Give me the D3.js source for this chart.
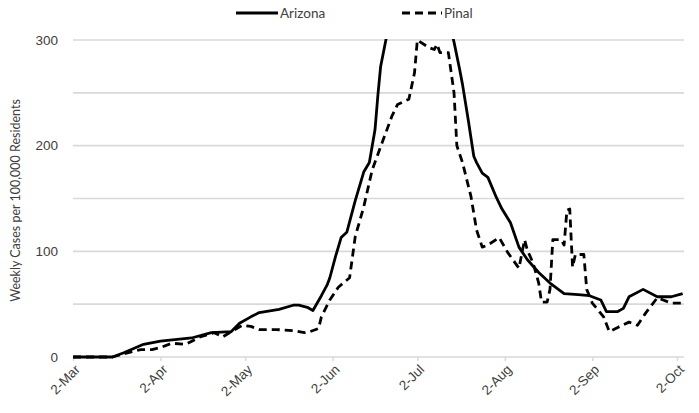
<!DOCTYPE html>
<html><head><meta charset="utf-8">
<script src="https://cdn.jsdelivr.net/npm/d3@7"></script>
<style>
html,body{margin:0;padding:0;background:#fff;}
svg{display:block;font-family:Lato,"Liberation Sans",sans-serif;}
</style></head><body>
<svg id="chart" width="699" height="413"></svg>
<script>
const seriesNames = ["Arizona", "Pinal"];
const yTickLabels = [0, 100, 200, 300];
const xTickLabels = ["2-Mar","2-Apr","2-May","2-Jun","2-Jul","2-Aug","2-Sep","2-Oct"];
const xTickDates = ["2020-03-02","2020-04-02","2020-05-02","2020-06-02","2020-07-02","2020-08-02","2020-09-02","2020-10-02"];

const arizonaDates = ["2020-03-02","2020-03-16","2020-03-20","2020-03-27","2020-04-02","2020-04-13","2020-04-20","2020-04-27","2020-04-30","2020-05-04","2020-05-07","2020-05-14","2020-05-19","2020-05-21","2020-05-24","2020-05-26","2020-05-29","2020-05-31","2020-06-01","2020-06-03","2020-06-05","2020-06-07","2020-06-10","2020-06-13","2020-06-15","2020-06-17","2020-06-18","2020-06-19","2020-06-21","2020-06-25","2020-07-01","2020-07-08","2020-07-13","2020-07-15","2020-07-17","2020-07-18","2020-07-20","2020-07-22","2020-07-23","2020-07-25","2020-07-27","2020-07-30","2020-08-01","2020-08-04","2020-08-07","2020-08-10","2020-08-14","2020-08-18","2020-08-23","2020-08-28","2020-09-01","2020-09-05","2020-09-07","2020-09-11","2020-09-13","2020-09-15","2020-09-20","2020-09-25","2020-09-30","2020-10-04"];
const arizonaValues = [0,0,4,12,15,18,23,24,32,38,42,45,49,49,47,44,58,68,75,95,113,118,148,175,184,215,247,275,302,335,360,350,320,298,272,258,225,190,184,174,170,151,140,127,104,92,80,70,60,59,58,54,43,43,46,57,64,57,57,60];

const pinalDates = ["2020-03-02","2020-03-16","2020-03-20","2020-03-26","2020-03-30","2020-04-02","2020-04-06","2020-04-11","2020-04-16","2020-04-21","2020-04-24","2020-04-29","2020-05-01","2020-05-04","2020-05-07","2020-05-13","2020-05-19","2020-05-23","2020-05-25","2020-05-28","2020-05-29","2020-06-01","2020-06-04","2020-06-08","2020-06-10","2020-06-13","2020-06-16","2020-06-19","2020-06-23","2020-06-25","2020-06-29","2020-07-01","2020-07-02","2020-07-06","2020-07-08","2020-07-09","2020-07-10","2020-07-13","2020-07-15","2020-07-16","2020-07-18","2020-07-21","2020-07-23","2020-07-25","2020-07-27","2020-07-31","2020-08-03","2020-08-07","2020-08-09","2020-08-10","2020-08-12","2020-08-14","2020-08-15","2020-08-17","2020-08-18","2020-08-19","2020-08-22","2020-08-23","2020-08-24","2020-08-25","2020-08-26","2020-08-27","2020-08-30","2020-08-31","2020-09-02","2020-09-06","2020-09-08","2020-09-11","2020-09-15","2020-09-18","2020-09-21","2020-09-25","2020-09-30","2020-10-04"];
const pinalValues = [0,0,3,7,7,9,13,12,19,23,19,27,30,29,26,26,25,23,24,27,38,54,66,75,114,142,177,199,228,239,244,269,300,293,291,296,288,288,250,200,184,152,120,104,106,113,99,84,111,101,89,70,52,52,64,111,111,106,139,140,85,97,97,64,51,38,24,28,33,30,42,56,51,51];

const parse = d3.utcParse("%Y-%m-%d");
const svg = d3.select("#chart");

const x = d3.scaleUtc().domain([parse(xTickDates[0]), parse(xTickDates[xTickDates.length-1])]).range([73, 677]);
const y = d3.scaleLinear().domain([0, 300]).range([357, 40]);
const plotLeft = 73, plotRight = 684;

// gridlines every 50
const grid = svg.append("g");
grid.selectAll("line").data(d3.range(0, 301, 50)).join("line")
  .attr("x1", plotLeft).attr("x2", plotRight)
  .attr("y1", d => y(d)).attr("y2", d => y(d))
  .attr("stroke", "#d9d9d9").attr("stroke-width", 1.6);

// x axis ticks
const xAxis = d3.axisBottom(x)
  .tickValues(xTickDates.map(parse))
  .tickFormat((d, i) => xTickLabels[i])
  .tickSize(4).tickSizeOuter(0);
const gx = svg.append("g").attr("transform", `translate(0,${y(0)})`).call(xAxis);
gx.select(".domain").remove();
gx.selectAll(".tick line").attr("stroke", "#d9d9d9").attr("stroke-width", 1.5);
gx.selectAll(".tick text")
  .attr("fill", "#404040").attr("font-size", 13.5)
  .attr("text-anchor", "end")
  .attr("x", 0).attr("y", 0).attr("dy", "0.35em")
  .attr("transform", "translate(4,10) rotate(-45)");

// y axis
const yAxis = d3.axisLeft(y).tickValues(yTickLabels).tickSize(0).tickPadding(15);
const gy = svg.append("g").attr("transform", `translate(${plotLeft},0)`).call(yAxis);
gy.select(".domain").remove();
gy.selectAll(".tick text").attr("fill", "#404040").attr("font-size", 13.5);

svg.append("text")
  .attr("transform", `translate(20,${(y(0)+y(300))/2 + 2}) rotate(-90)`)
  .attr("text-anchor", "middle").attr("fill", "#404040").attr("font-size", 12.5)
  .text("Weekly Cases per 100,000 Residents");

// clip
svg.append("clipPath").attr("id", "clip").append("rect")
  .attr("x", plotLeft - 2).attr("y", y(300) - 1).attr("width", plotRight - plotLeft + 4).attr("height", y(0) - y(300) + 4);

const line = d3.line().x(d => x(d[0])).y(d => y(d[1]));
const azData = arizonaDates.map((d, i) => [parse(d), arizonaValues[i]]);
const piData = pinalDates.map((d, i) => [parse(d), pinalValues[i]]);

const lines = svg.append("g").attr("clip-path", "url(#clip)");
lines.append("path").datum(piData).attr("d", line)
  .attr("fill", "none").attr("stroke", "#000").attr("stroke-width", 2.8)
  .attr("stroke-dasharray", "8,5").attr("stroke-linejoin", "round");
lines.append("path").datum(azData).attr("d", line)
  .attr("fill", "none").attr("stroke", "#000").attr("stroke-width", 2.8)
  .attr("stroke-linejoin", "round");

// legend
const legend = svg.append("g");
const legItems = [
  {name: seriesNames[0], x1: 236, x2: 278, dash: null},
  {name: seriesNames[1], x1: 402, x2: 442, dash: "8,5"}
];
legItems.forEach(it => {
  legend.append("line").attr("x1", it.x1).attr("x2", it.x2).attr("y1", 13).attr("y2", 13)
    .attr("stroke", "#000").attr("stroke-width", 3).attr("stroke-dasharray", it.dash);
  legend.append("text").attr("x", it.x2 + 2).attr("y", 18).attr("font-size", 13.5)
    .attr("fill", "#404040").text(it.name);
});
</script>
</body></html>
